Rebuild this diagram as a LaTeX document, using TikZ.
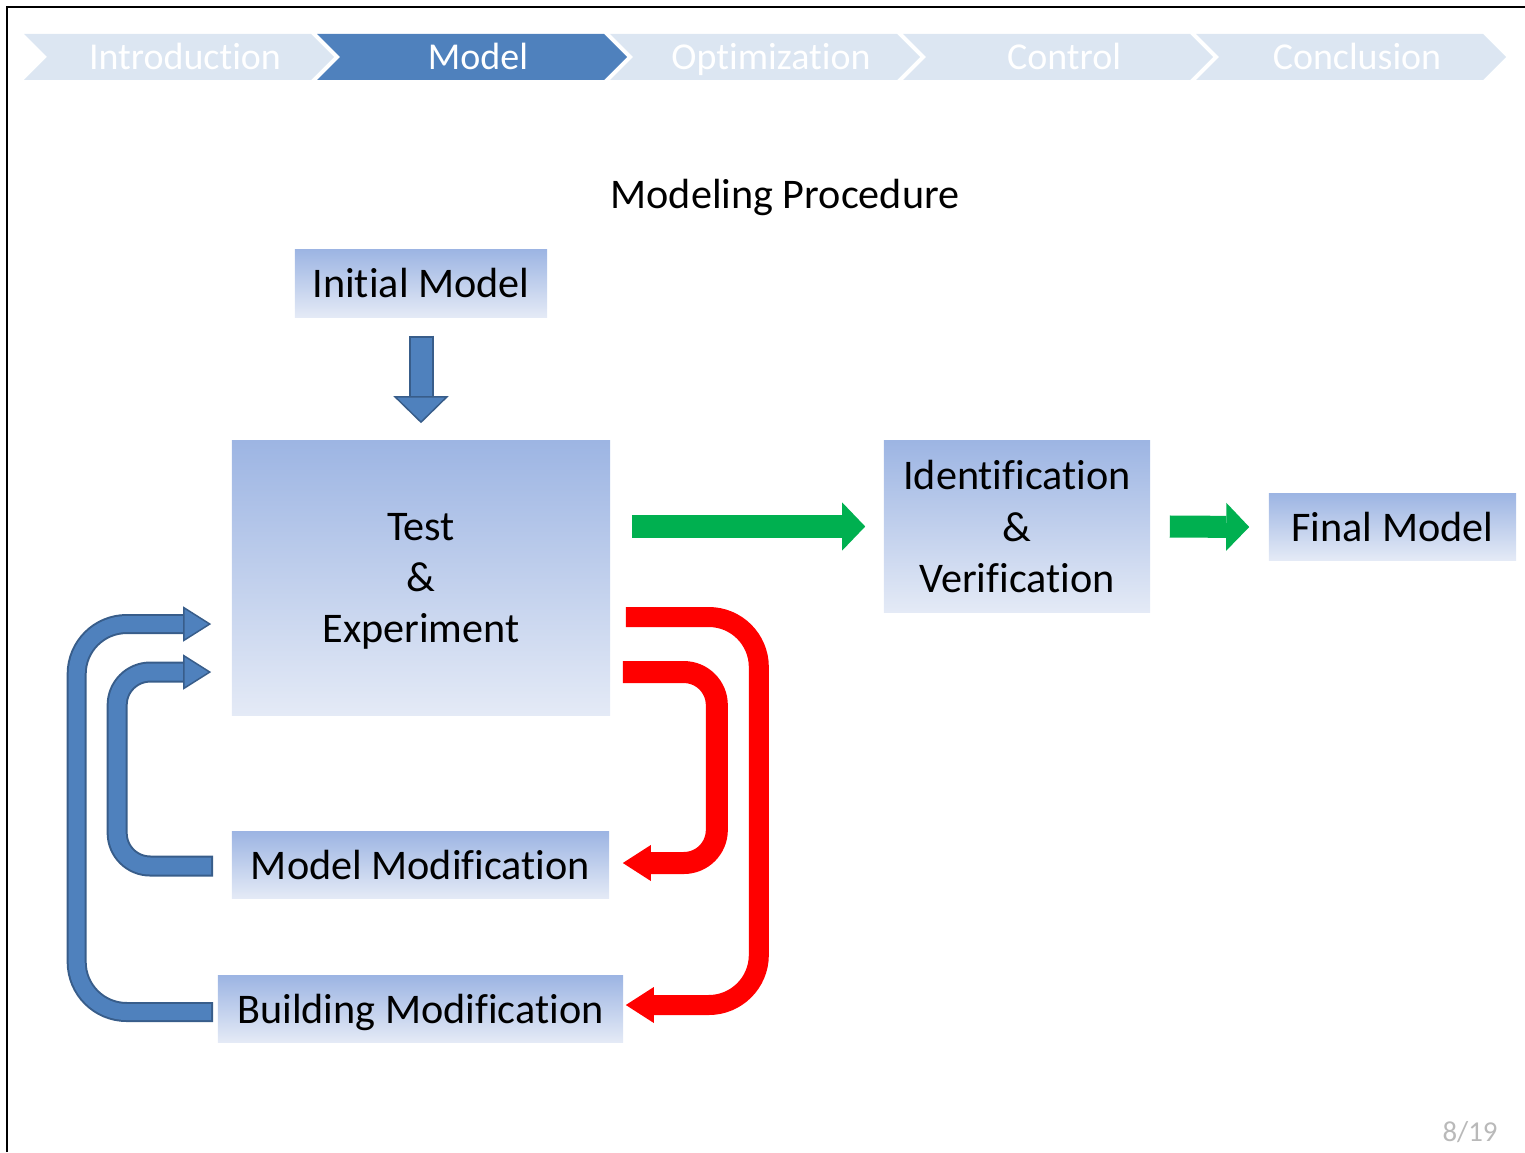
\documentclass[tikz,border=0pt]{standalone}
\usepackage{fontspec}
\setmainfont{Carlito}[RawFeature={-liga;-dlig;-clig;-calt;-rlig}]
\usetikzlibrary{arrows.meta,calc}
\definecolor{barlight}{RGB}{220,230,242}
\definecolor{bardark}{RGB}{79,129,189}
\definecolor{boxtop}{RGB}{157,181,227}
\definecolor{boxbot}{RGB}{228,234,246}
\definecolor{blueedge}{RGB}{56,93,138}
\definecolor{bluefill}{RGB}{79,129,189}
\definecolor{greenfill}{RGB}{0,176,80}
\tikzset{
  navtext/.style={font=\fontsize{10.8}{13}\selectfont, text=white, anchor=base, inner sep=0pt},
  stagebox/.style={top color=boxtop, bottom color=boxbot, inner sep=0pt, align=center,
    font=\fontsize{12}{14.6}\selectfont},
  bluepipe/.style 2 args={draw=bluefill, line width=#1,
    preaction={draw=blueedge, line width=#2, -, shorten >=2.6mm, shorten <=-0.2mm},
    -{Triangle[length=2.8mm,width=3.5mm,line width=0.15mm,fill=bluefill,color=blueedge]}},
  redpipe/.style={draw=red, line width=#1, -{Triangle[length=2.8mm,width=3.6mm,line width=0pt]}},
  greenpipe/.style={draw=greenfill, line width=2.2mm, -{Triangle[length=2.3mm,width=4.8mm,line width=0pt]}}
}
\begin{document}
\begin{tikzpicture}[x=0.01cm,y=-0.01cm]
  \useasboundingbox (0,0) rectangle (1525,1152);
  \draw[line width=0.2mm] (7,1152) -- (7,7) -- (1525,7);
  % navigation bar
  \foreach \name/\col [count=\i from 0] in {Introduction/barlight,Model/bardark,
      Optimization/barlight,Control/barlight,Conclusion/barlight}
  {
    \fill[\col] (24+293*\i,34) -- ++(287,0) -- ++(23,23) -- ++(-23,23) -- ++(-287,0) -- ++(23,-23) -- cycle;
    \node[navtext] (nav\i) at (185+293*\i,70) {\name};
  }
  \node[font=\fontsize{12}{14}\selectfont] (title) at (785,197) {Modeling Procedure};
  % stages
  \node[stagebox, minimum width=2.52cm, minimum height=0.67cm] (init) at (421,283.5) {Initial Model};
  \node[stagebox, minimum width=3.78cm, minimum height=2.74cm, text depth=0pt] (test) at (421,578) {Test\\\&\\Experiment};
  \node[stagebox, minimum width=2.66cm, minimum height=1.71cm] (idv) at (1017,526.5) {Identification\\\&\\Verification};
  \node[stagebox, minimum width=2.47cm, minimum height=0.66cm] (final) at (1392.5,527) {Final Model};
  \node[stagebox, minimum width=3.77cm, minimum height=0.66cm] (mmod) at (420.5,865) {Model Modification};
  \node[stagebox, minimum width=4.05cm, minimum height=0.66cm, text depth=0pt] (bmod) at (420.5,1009) {Building Modification};
  \node[font=\fontsize{8.2}{10}\selectfont, text=gray!55] (page) at (1470,1132) {8/19};
  % block arrows
  \draw[draw=bluefill, line width=2.1mm,
    preaction={draw=blueedge, line width=2.5mm, -, shorten >=2.5mm, shorten <=-0.2mm},
    -{Triangle[length=2.7mm,width=5.5mm,line width=0.15mm,fill=bluefill,color=blueedge]}]
    ([yshift=-2mm]init.south) -- ([yshift=1.7mm]test.north);
  \draw[greenpipe] ($(test.east |- idv.west)+(21,0)$) -- ([xshift=-1.8mm]idv.west);
  \draw[greenpipe] ([xshift=1.9mm]idv.east) -- ([xshift=-1.9mm]final.west);
  % feedback loops
  \draw[redpipe=2mm, rounded corners=0.5cm]
    ([xshift=1.5mm,yshift=-3.9mm]test.east) -- ++(133,0) |- ([xshift=0.2mm,yshift=0.4mm]bmod.east);
  \draw[redpipe=2.2mm, rounded corners=0.33cm]
    ([xshift=1.2mm,yshift=-9.4mm]test.east) -- ++(94,0) |- ([xshift=1.3mm,yshift=0.2mm]mmod.east);
  \draw[bluepipe={1.6mm}{2mm}, rounded corners=0.5cm]
    ([xshift=-0.6mm,yshift=-0.3mm]bmod.west) -- ++(-134.5,0) |- ([xshift=-2mm,yshift=-4.6mm]test.west);
  \draw[bluepipe={1.7mm}{2.1mm}, rounded corners=0.33cm]
    ([xshift=-2mm,yshift=-0.1mm]mmod.west) -- ++(-94,0) |- ([xshift=-2mm,yshift=-9.4mm]test.west);
\end{tikzpicture}
\end{document}
